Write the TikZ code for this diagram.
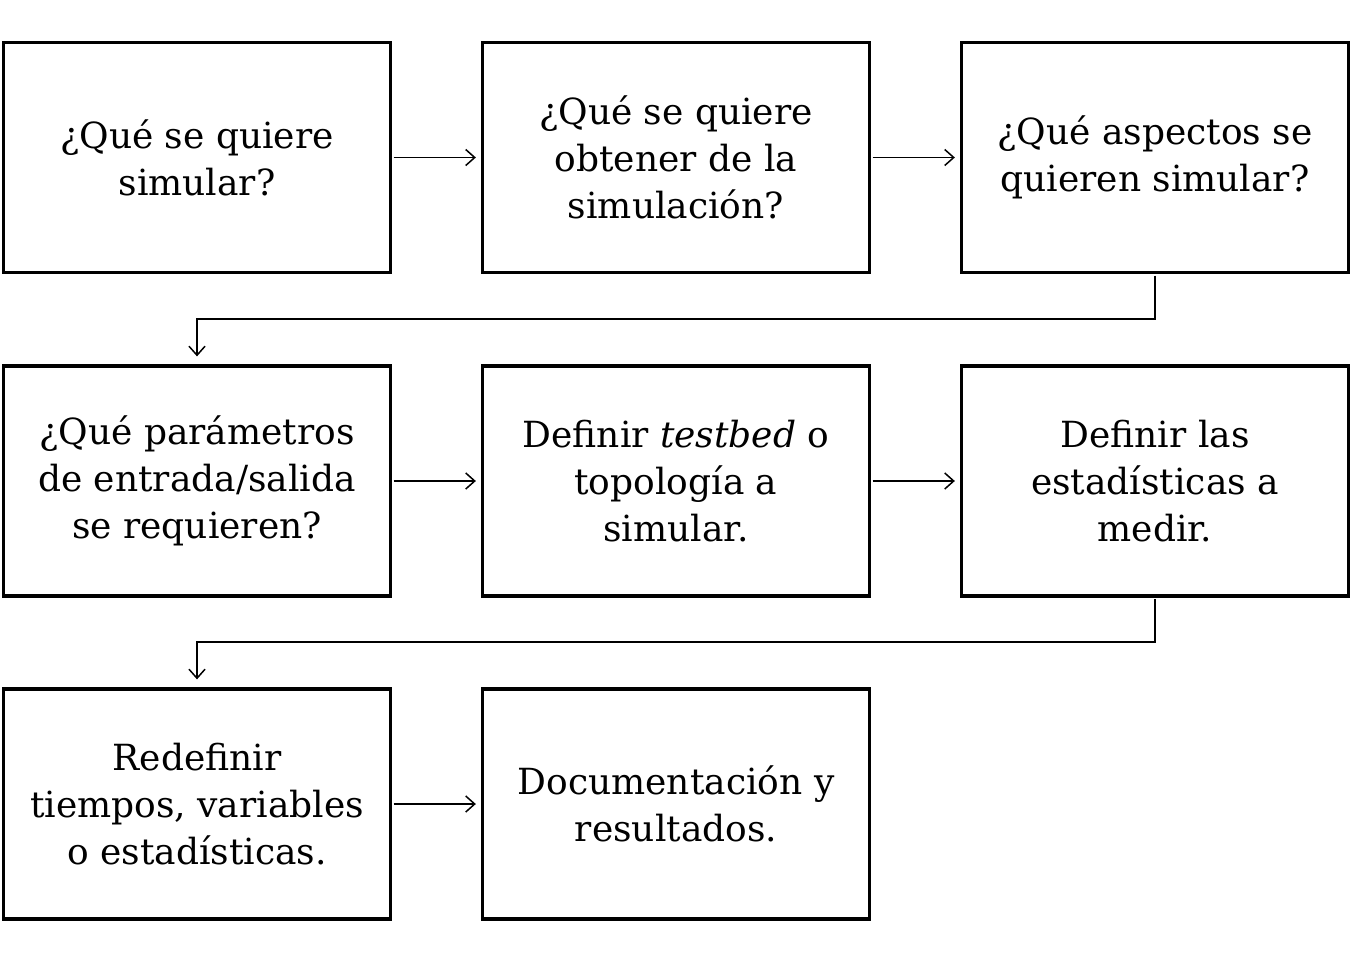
\documentclass[tikz,border=0pt]{standalone}
\usepackage{fontspec}
\setmainfont{DejaVu Serif}
\usetikzlibrary{arrows.meta}
\begin{document}
\begin{tikzpicture}[x=1pt,y=-1pt,
  stepbox/.style={draw,line width=3.3pt,minimum width=387pt,minimum height=230pt,inner sep=0pt,align=center,
    font=\fontsize{36}{47}\selectfont},
  conn/.style={line width=1.5pt,-{Straight Barb[length=9pt,width=16pt,line width=1.5pt]}}]
\useasboundingbox (0,0) rectangle (1352,962);
\node[stepbox] (a) at (197,157.5) {¿Qué se quiere\\simular?};
\node[stepbox] (b) at (676,157.5) {¿Qué se quiere\\obtener de la\\simulación?};
\node[stepbox] (c) at (1155,157.5) {¿Qué aspectos se\\quieren simular?};
\node[stepbox] (d) at (197,481) {¿Qué parámetros\\de entrada/salida\\se requieren?};
\node[stepbox] (e) at (676,481) {Definir \textit{testbed} o\\topología a\\simular.};
\node[stepbox] (f) at (1155,481) {Definir las\\estadísticas a\\medir.};
\node[stepbox] (g) at (197,804) {Redefinir\\tiempos, variables\\o estadísticas.};
\node[stepbox] (h) at (676,804) {Documentación y\\resultados.};
\draw[conn,shorten <=1.5pt,shorten >=5pt] (a.east) -- (b.west);
\draw[conn,shorten <=1.5pt,shorten >=5pt] (b.east) -- (c.west);
\draw[conn,shorten <=1.5pt,shorten >=5pt] (d.east) -- (e.west);
\draw[conn,shorten <=1.5pt,shorten >=5pt] (e.east) -- (f.west);
\draw[conn,shorten <=1.5pt,shorten >=5pt] (g.east) -- (h.west);
\draw[conn,shorten <=1.5pt,shorten >=8pt] (c.south) |- (197,319) -- (d.north);
\draw[conn,shorten <=1.5pt,shorten >=8pt] (f.south) |- (197,642) -- (g.north);
\end{tikzpicture}
\end{document}
